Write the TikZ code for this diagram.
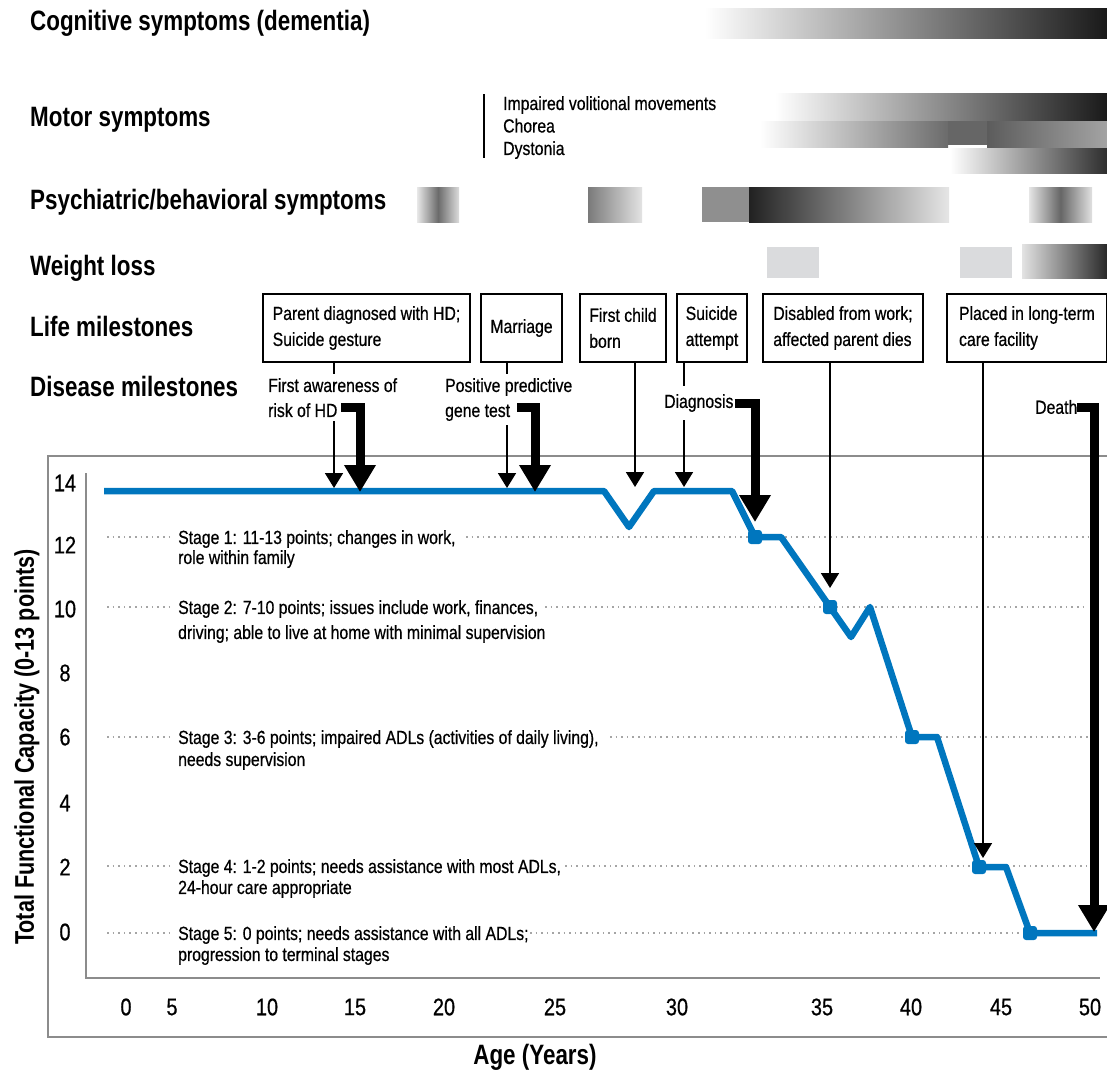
\documentclass[tikz,border=0pt]{standalone}
\usepackage{fontspec}
\setmainfont{Liberation Sans}
\newfontfamily\hf[FakeStretch=0.8]{Liberation Sans}
\newfontfamily\tf[FakeStretch=0.83,FakeBold=0.6]{Liberation Sans}
\usetikzlibrary{arrows.meta}
\definecolor{hdblue}{RGB}{0,118,190}
\definecolor{framegray}{RGB}{140,140,140}
\definecolor{dotgray}{RGB}{165,165,165}
\definecolor{wlgray}{RGB}{218,219,221}
\hyphenpenalty=10000
\exhyphenpenalty=10000
\begin{document}
\begin{tikzpicture}[x=1pt,y=-1pt,
 head/.style={font=\hf\bfseries\fontsize{28}{30}\selectfont, anchor=west, inner sep=0pt},
 lbl/.style={font=\tf\fontsize{19}{22}\selectfont, inner sep=0pt, align=left, anchor=north west},
 mbox/.style={draw, line width=2pt, fill=white, inner xsep=6pt, inner ysep=0pt, minimum height=68pt, align=left, anchor=north west, font=\tf\fontsize{19}{26}\selectfont},
 tick/.style={font=\tf\fontsize{24}{24}\selectfont, inner sep=0pt},
 thinarr/.style={line width=1.8pt, -{Triangle[width=18pt,length=15pt]}},
 thickarr/.style={line width=9pt, -{Triangle[width=30pt,length=27pt]}},
 dots/.style={draw=dotgray, line width=1.6pt, dash pattern=on 1.6pt off 4pt},
 frame/.style={draw=framegray, line width=2pt},
 curve/.style={draw=hdblue, line width=6.5pt, line join=round},
 ptblob/.style={fill=hdblue, rounded corners=3pt}
]
\useasboundingbox (0,0) rectangle (1107,1071);

% ---- row headings
\node[head] (hcog)  at (30,23)  {Cognitive symptoms (dementia)};
\node[head] (hmot)  at (30,120) {Motor symptoms};
\node[head] (hpsy)  at (30,202) {Psychiatric/behavioral symptoms};
\node[head] (hwl)   at (30,268) {Weight loss};
\node[head] (hlife) at (30,326) {Life milestones};
\node[head] (hdis)  at (30,386) {Disease milestones};

% ---- cognitive bar
\shade[left color=white, right color=black!90] (705,8) rectangle (1107,38);

% ---- motor
\draw[line width=2pt] (484,94) -- (484,158);
\node[lbl, font=\tf\fontsize{19}{22.5}\selectfont] (mlist) at (503,96) {Impaired volitional movements\\Chorea\\Dystonia};
\shade[left color=white, right color=black!90] (775,93) rectangle (1107,120);
\shade[left color=white, right color=black!58] (760,121) rectangle (948,147);
\fill[black!60] (948,121) rectangle (987,145);
\shade[left color=black!64, right color=black!36] (987,121) rectangle (1107,147);
\shade[left color=white, right color=black!82] (950,148) rectangle (1107,173);

% ---- psychiatric
\shade[left color=black!9, right color=black!14, middle color=black!58] (417,187) rectangle (459,222);
\shade[left color=black!52, right color=black!11] (588,187) rectangle (642,222);
\fill[black!44] (702,187) rectangle (749,222);
\shade[left color=black!87, right color=black!10] (749,187) rectangle (949,222);
\shade[left color=black!10, right color=black!12, middle color=black!60] (1029,187) rectangle (1092,222);

% ---- weight loss
\fill[wlgray] (767,247) rectangle (819,278);
\fill[wlgray] (960,247) rectangle (1012,278);
\shade[left color=black!11, right color=black!84] (1022,244) rectangle (1107,278);

% ---- life milestone boxes
\node[mbox, minimum width=207pt] (b1) at (262,293) {Parent diagnosed with HD;\\Suicide gesture};
\node[mbox, minimum width=81pt]  (b2) at (480,293) {Marriage};
\node[mbox, minimum width=86pt]  (b3) at (579,293) {First child\\born};
\node[mbox, minimum width=70pt]  (b4) at (676,293) {Suicide\\attempt};
\node[mbox, minimum width=160pt] (b5) at (762,293) {Disabled from work;\\affected parent dies};
\node[mbox, minimum width=160pt] (b6) at (946,293) {Placed in long-term\\care facility};

% ---- plot frame
\draw[frame] (1107,456) -- (48,456) -- (48,1037) -- (1107,1037);
\draw[frame] (86,473) -- (86,978) -- (1100,978);

% ---- y ticks
\foreach \v/\yy in {14/483,12/545,10/609,8/673,6/737,4/803,2/867,0/932}
  \node[tick] (yt\v) at (65,\yy) {\v};
% ---- x ticks
\foreach \v/\xx in {0/126,5/172,10/267,15/355,20/444,25/555,30/677,35/822,40/911,45/1001,50/1090}
  \node[tick] (xt\v) at (\xx,1007) {\v};

\node[font=\hf\bfseries\fontsize{27}{28}\selectfont, rotate=90, inner sep=0pt] (ylab) at (27,747) {Total Functional Capacity (0-13 points)};
\node[font=\hf\bfseries\fontsize{28}{30}\selectfont, inner sep=0pt] (xlab) at (535,1057) {Age (Years)};

% ---- dotted stage lines
\foreach \yy in {537,607,737,866,933} \draw[dots] (107,\yy) -- (170,\yy);
\draw[dots] (466,537) -- (1088,537);
\draw[dots] (545,607) -- (1088,607);
\draw[dots] (610,737) -- (1088,737);
\draw[dots] (565,866) -- (1088,866);
\draw[dots] (530,933) -- (1020,933);

% ---- stage texts
\node[lbl, font=\tf\fontsize{19}{20}\selectfont] (s1) at (178,530) {Stage 1: 11-13 points; changes in work,\\role within family};
\node[lbl, font=\tf\fontsize{19}{25}\selectfont] (s2) at (178,600) {Stage 2: 7-10 points; issues include work, finances,\\driving; able to live at home with minimal supervision};
\node[lbl, font=\tf\fontsize{19}{22}\selectfont] (s3) at (178,730) {Stage 3: 3-6 points; impaired ADLs (activities of daily living),\\needs supervision};
\node[lbl, font=\tf\fontsize{19}{21}\selectfont] (s4) at (178,859) {Stage 4: 1-2 points; needs assistance with most ADLs,\\24-hour care appropriate};
\node[lbl, font=\tf\fontsize{19}{21}\selectfont] (s5) at (178,926) {Stage 5: 0 points; needs assistance with all ADLs;\\progression to terminal stages};

% ---- functional capacity curve
\draw[curve] (104,491) -- (604,491) -- (629,527) -- (654,491) -- (732,491) -- (755,537) -- (781,537)
  -- (830,607) -- (851,637) -- (870,607) -- (912,737) -- (937,737) -- (979,867) -- (1006,867)
  -- (1030,933) -- (1097,933);
\foreach \px/\py in {755/537,830/607,912/737,979/867,1030/933}
  \fill[ptblob] (\px-7,\py-7) rectangle (\px+7,\py+7);

% ---- arrow targets
\coordinate (a1) at (334,488);
\coordinate (a2) at (507,488);
\coordinate (a3) at (635,487);
\coordinate (a4) at (684,487);
\coordinate (a5) at (830,588);
\coordinate (a6) at (983,858);
\coordinate (t1) at (360,492);
\coordinate (t2) at (535,492);
\coordinate (t3) at (755,522);
\coordinate (t4) at (1094,932);
\coordinate (t1s) at (341,407);
\coordinate (t2s) at (517,407);

% ---- thin connectors from life milestones
\draw[thinarr] (b1.south -| a1) -- (a1);
\draw[thinarr] (b2.south -| a2) -- (a2);
\draw[thinarr] (b3.south -| a3) -- (a3);
\draw[thinarr] (b4.south -| a4) -- (a4);
\draw[thinarr] (b5.south -| a5) -- (a5);
\draw[thinarr] (b6.south -| a6) -- (a6);

% ---- disease milestone labels
\node[lbl, fill=white, inner ysep=4pt, font=\tf\fontsize{19}{25}\selectfont] (aware) at (268,374) {First awareness of\\risk of HD};
\node[lbl, fill=white, inner ysep=4pt, font=\tf\fontsize{19}{25}\selectfont] (gene) at (445,374) {Positive predictive\\gene test};
\node[lbl, anchor=west, fill=white, inner ysep=8pt, inner xsep=1pt] (diag) at (663,403) {Diagnosis};
\node[lbl, anchor=west] (death) at (1035,407) {Death};

% ---- thick connectors
\draw[thickarr] (t1s) -| (t1);
\draw[thickarr] (t2s) -| (t2);
\draw[thickarr] (diag.east) -| (t3);
\draw[thickarr] (death.east) -| (t4);
\end{tikzpicture}
\end{document}
